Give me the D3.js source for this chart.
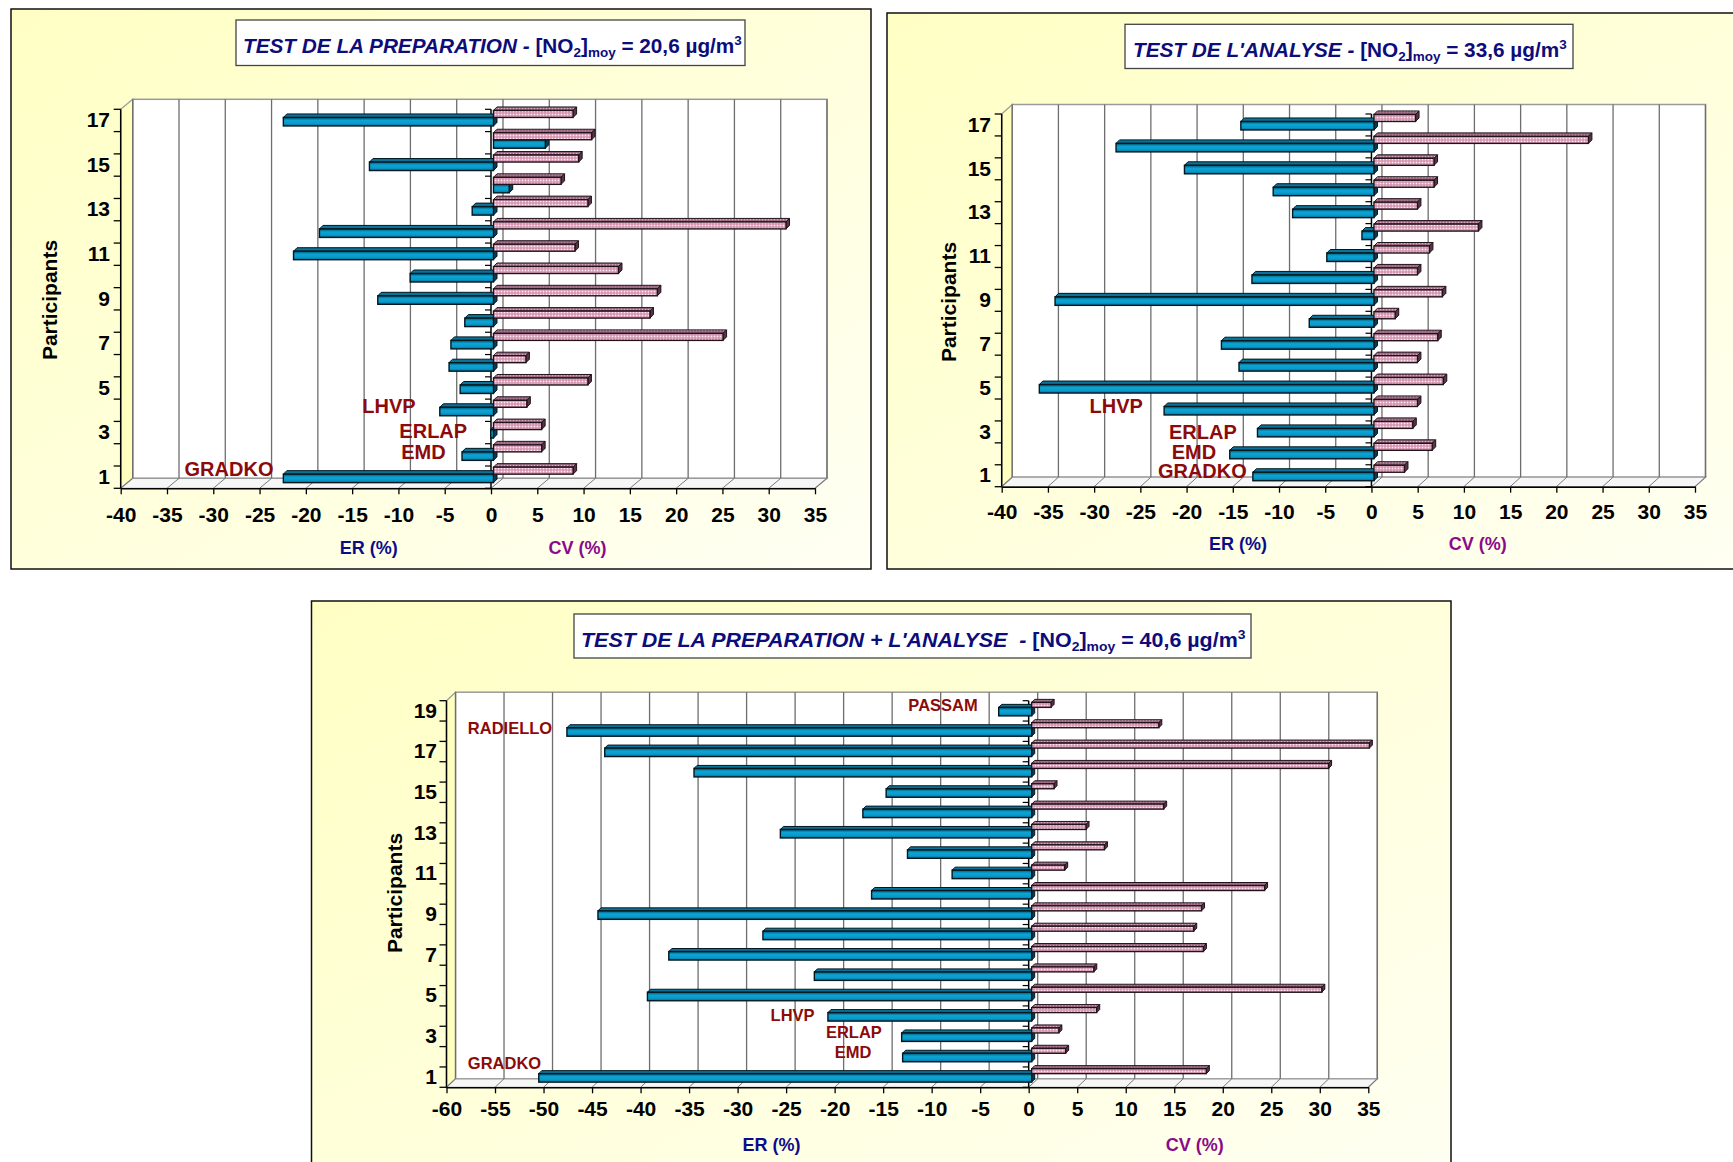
<!DOCTYPE html>
<html lang="fr">
<head>
<meta charset="UTF-8">
<title>Tests NO2 - ER et CV par participant</title>
<script src="https://d3js.org/d3.v7.min.js"></script>
<style>
  body { margin: 0; background: #fff; }
  svg { display: block; font-family: "Liberation Sans", Arial, sans-serif; }
  text { white-space: pre; }
</style>
</head>
<body>
<div id="chart"></div>
<script>
// participants, participant 1 first in every series
const participants17 = [1, 2, 3, 4, 5, 6, 7, 8, 9, 10, 11, 12, 13, 14, 15, 16, 17];
const participants19 = [1, 2, 3, 4, 5, 6, 7, 8, 9, 10, 11, 12, 13, 14, 15, 16, 17, 18, 19];

// test de la preparation
const prepER = [-22.7, -3.4, -0.3, -5.8, -3.6, -4.8, -4.6, -3.1, -12.5, -9.0, -21.6, -18.8, -2.3, 1.7, -13.4, 5.6, -22.7];
const prepCV = [8.6, 5.2, 5.2, 3.6, 10.2, 3.5, 24.8, 16.9, 17.7, 13.5, 8.8, 31.6, 10.2, 7.3, 9.2, 10.6, 8.6];

// test de l'analyse
const anaER = [-13.1, -15.6, -12.6, -22.7, -36.2, -14.6, -16.5, -7.0, -34.5, -13.2, -5.1, -1.3, -8.8, -10.9, -20.5, -27.9, -14.4];
const anaCV = [3.3, 6.3, 4.2, 4.7, 7.5, 4.7, 6.9, 2.3, 7.4, 4.7, 6.0, 11.3, 4.7, 6.5, 6.5, 23.2, 4.5];

// test de la preparation + l'analyse
const totER = [-50.8, -13.3, -13.4, -21.0, -39.6, -22.4, -37.4, -27.7, -44.7, -16.5, -8.2, -12.8, -25.9, -17.4, -15.0, -34.8, -44.0, -47.9, -3.4];
const totCV = [18.0, 3.5, 2.8, 6.7, 29.9, 6.4, 17.7, 16.7, 17.5, 24.0, 3.4, 7.5, 5.6, 13.6, 2.3, 30.6, 34.8, 13.1, 2.0];

// axis ticks
const ticksA = [-40, -35, -30, -25, -20, -15, -10, -5, 0, 5, 10, 15, 20, 25, 30, 35];
const ticksB = [-60, -55, -50, -45, -40, -35, -30, -25, -20, -15, -10, -5, 0, 5, 10, 15, 20, 25, 30, 35];
const labels17 = [1, 3, 5, 7, 9, 11, 13, 15, 17];
const labels19 = [1, 3, 5, 7, 9, 11, 13, 15, 17, 19];

// sampler names, placed in data coordinates (participant, value)
const names1 = [
  { text: "LHVP", p: 4.2, v: -13.9 },
  { text: "ERLAP", p: 3.05, v: -9.9 },
  { text: "EMD", p: 2.15, v: -9.7 },
  { text: "GRADKO", p: 1.37, v: -33.1 }
];
const names2 = [
  { text: "LHVP", p: 4.18, v: -30.5 },
  { text: "ERLAP", p: 2.98, v: -21.9 },
  { text: "EMD", p: 2.1, v: -21.6 },
  { text: "GRADKO", p: 1.22, v: -23.1 }
];
const names3 = [
  { text: "PASSAM", p: 19.29, v: -12.4 },
  { text: "RADIELLO", p: 18.14, v: -57.8 },
  { text: "LHVP", p: 4.05, v: -26.6 },
  { text: "ERLAP", p: 3.23, v: -20.9 },
  { text: "EMD", p: 2.22, v: -20.0 },
  { text: "GRADKO", p: 1.68, v: -57.8 }
];

const svg = d3.select("#chart").append("svg")
  .attr("width", 1733)
  .attr("height", 1162);

// gradients and patterns
const defs = svg.append("defs");

const bg = defs.append("linearGradient").attr("id", "panelBg")
  .attr("x1", 0).attr("y1", 0).attr("x2", 1).attr("y2", 1);
bg.append("stop").attr("offset", 0).attr("stop-color", "#ffffc4");
bg.append("stop").attr("offset", 1).attr("stop-color", "#fffff4");

const bf = defs.append("linearGradient").attr("id", "blueFront")
  .attr("x1", 0).attr("y1", 0).attr("x2", 0).attr("y2", 1);
bf.append("stop").attr("offset", 0).attr("stop-color", "#06536d");
bf.append("stop").attr("offset", 0.35).attr("stop-color", "#0ba4d4");
bf.append("stop").attr("offset", 0.7).attr("stop-color", "#099bcc");
bf.append("stop").attr("offset", 1).attr("stop-color", "#076c90");

function dots(id, base, light, dark) {
  const p = defs.append("pattern").attr("id", id)
    .attr("width", 3).attr("height", 3)
    .attr("patternUnits", "userSpaceOnUse");
  p.append("rect").attr("width", 3).attr("height", 3).attr("fill", base);
  p.append("rect").attr("width", 1).attr("height", 1).attr("fill", light);
  p.append("rect").attr("x", 1.5).attr("y", 1.5).attr("width", 1).attr("height", 1).attr("fill", dark);
}
dots("pinkFront", "#e4adc4", "#fbeef4", "#a9668a");
dots("pinkTop", "#a87690", "#d2aec0", "#6a3f56");

const blueFill = { front: "url(#blueFront)", top: "#0a739a", side: "#053f54", stroke: "#011820" };
const pinkFill = { front: "url(#pinkFront)", top: "url(#pinkTop)", side: "#553646", stroke: "#22121a" };

const line = d3.line();

function drawBox(g, xa, xz, ya, yz, d, f) {
  if (xz - xa < 0.6) xz = xa + 0.6;
  g.append("path")
    .attr("d", line([[xa, ya], [xz, ya], [xz + d, ya - d], [xa + d, ya - d]]) + "Z")
    .attr("fill", f.top).attr("stroke", f.stroke).attr("stroke-width", 1);
  g.append("path")
    .attr("d", line([[xz, ya], [xz + d, ya - d], [xz + d, yz - d], [xz, yz]]) + "Z")
    .attr("fill", f.side).attr("stroke", f.stroke).attr("stroke-width", 1);
  g.append("rect")
    .attr("x", xa).attr("y", ya)
    .attr("width", xz - xa).attr("height", yz - ya)
    .attr("fill", f.front).attr("stroke", f.stroke).attr("stroke-width", 1.4);
}

function drawPanel(cfg) {
  const g = svg.append("g");

  // frame
  g.append("rect")
    .attr("x", cfg.frame[0]).attr("y", cfg.frame[1])
    .attr("width", cfg.frame[2]).attr("height", cfg.frame[3])
    .attr("fill", "url(#panelBg)")
    .attr("stroke", "#111").attr("stroke-width", 1.5);

  // title
  g.append("rect")
    .attr("x", cfg.titleBox[0]).attr("y", cfg.titleBox[1])
    .attr("width", cfg.titleBox[2]).attr("height", cfg.titleBox[3])
    .attr("fill", "#fff").attr("stroke", "#444").attr("stroke-width", 1.3);
  const title = g.append("text")
    .attr("x", 0).attr("y", 0)
    .attr("font-size", 20).attr("font-weight", "bold").attr("fill", "#0c0c7a");
  title.append("tspan").attr("font-style", "italic").text(cfg.titleLead);
  title.append("tspan").text("[NO");
  title.append("tspan").attr("font-size", 13).attr("dy", 4).text("2");
  title.append("tspan").attr("dy", -4).text("]");
  title.append("tspan").attr("font-size", 13).attr("dy", 4).text("moy");
  title.append("tspan").attr("dy", -4).text(" = " + cfg.titleValue + " µg/m");
  title.append("tspan").attr("font-size", 13).attr("dy", -8).text("3");
  const tw = title.node().getBBox().width;
  title.attr("transform", `translate(${cfg.titleX},${cfg.titleBase}) scale(${cfg.titleW / tw},1)`);

  const x = d3.scaleLinear().domain(cfg.xDomain).range(cfg.xRange);
  const y = d3.scaleBand().domain(cfg.participants.slice().reverse()).range(cfg.yRange);
  const yNum = d3.scaleLinear()
    .domain([0.5, cfg.participants.length + 0.5])
    .range([cfg.yRange[1], cfg.yRange[0]]);
  const [dx, dy] = cfg.wall;
  const x0 = cfg.xRange[0], x1 = cfg.xRange[1];
  const yTop = cfg.yRange[0], yBot = cfg.yRange[1];

  // back wall, side wall, floor
  g.append("rect")
    .attr("x", x0 + dx).attr("y", yTop + dy)
    .attr("width", x1 - x0).attr("height", yBot - yTop)
    .attr("fill", "#fff").attr("stroke", "#9a9a9a").attr("stroke-width", 1.5);
  g.append("path")
    .attr("d", line([[x0, yTop], [x0 + dx, yTop + dy], [x0 + dx, yBot + dy], [x0, yBot]]) + "Z")
    .attr("fill", "#ffffc0").attr("stroke", "#9a9a9a").attr("stroke-width", 1.2);
  g.append("path")
    .attr("d", line([[x0, yBot], [x1, yBot], [x1 + dx, yBot + dy], [x0 + dx, yBot + dy]]) + "Z")
    .attr("fill", "#f6f6f6").attr("stroke", "#9a9a9a").attr("stroke-width", 1.2);

  // grid lines on the back wall and on the floor
  g.append("g").selectAll("line").data(cfg.ticks).join("line")
    .attr("x1", d => x(d) + dx).attr("x2", d => x(d) + dx)
    .attr("y1", yTop + dy).attr("y2", yBot + dy)
    .attr("stroke", "#6e6e6e").attr("stroke-width", 1.3);
  g.append("g").selectAll("line").data(cfg.ticks).join("line")
    .attr("x1", d => x(d)).attr("x2", d => x(d) + dx)
    .attr("y1", yBot).attr("y2", yBot + dy)
    .attr("stroke", "#7a7a7a").attr("stroke-width", 1);

  // value axis
  const fs = 21;
  const xAxis = g.append("g")
    .attr("transform", `translate(0,${yBot})`)
    .call(d3.axisBottom(x).tickValues(cfg.ticks).tickSize(6).tickSizeOuter(0)
      .tickPadding(cfg.xLabelOffset - 6 - 0.35 * fs)
      .tickFormat(d => String(d)));
  xAxis.attr("font-family", null);
  xAxis.select(".domain").attr("stroke", "#000").attr("stroke-width", 1.5);
  xAxis.selectAll(".tick line").attr("stroke", "#000").attr("stroke-width", 1.3);
  xAxis.selectAll(".tick text")
    .attr("font-size", fs).attr("font-weight", "bold").attr("fill", "#000");

  // participant axis (front edge of the side wall)
  const bounds = cfg.participants.map(p => y(p)).concat([yBot]);
  g.append("line")
    .attr("x1", x0).attr("x2", x0).attr("y1", yTop).attr("y2", yBot)
    .attr("stroke", "#000").attr("stroke-width", 1.5);
  g.append("g").selectAll("line").data(bounds).join("line")
    .attr("x1", x0 - 7).attr("x2", x0).attr("y1", d => d).attr("y2", d => d)
    .attr("stroke", "#000").attr("stroke-width", 1.3);
  const yAxis = g.append("g")
    .attr("transform", `translate(${x0},0)`)
    .call(d3.axisLeft(y).tickValues(cfg.tickLabels).tickSize(0).tickPadding(cfg.yLabelPad));
  yAxis.attr("font-family", null);
  yAxis.select(".domain").remove();
  yAxis.selectAll(".tick text")
    .attr("font-size", fs).attr("font-weight", "bold").attr("fill", "#000");

  // category axis crossing at zero
  g.append("line")
    .attr("x1", x(0)).attr("x2", x(0)).attr("y1", yTop).attr("y2", yBot)
    .attr("stroke", "#000").attr("stroke-width", 1.5);
  g.append("g").selectAll("line").data(bounds).join("line")
    .attr("x1", x(0) - 6).attr("x2", x(0)).attr("y1", d => d).attr("y2", d => d)
    .attr("stroke", "#000").attr("stroke-width", 1.2);

  // bars: ER (blue) under CV (pink) in each participant band
  const b = cfg.bar;
  const xb = v => x(v) + b.ox;
  const rows = cfg.participants.map((p, i) => ({ p, er: cfg.er[i], cv: cfg.cv[i] }));
  g.append("g").selectAll("g").data(rows).join("g").each(function (r) {
    const cg = d3.select(this);
    const c = y(r.p) + y.bandwidth() / 2 + b.oy;
    drawBox(cg, Math.min(xb(0), xb(r.er)), Math.max(xb(0), xb(r.er)), c, c + b.bh, b.d, blueFill);
    drawBox(cg, Math.min(xb(0), xb(r.cv)), Math.max(xb(0), xb(r.cv)), c - b.ph, c, b.d, pinkFill);
  });

  // sampler names
  g.append("g").selectAll("text").data(cfg.names).join("text")
    .attr("x", d => x(d.v)).attr("y", d => yNum(d.p))
    .attr("dominant-baseline", "central")
    .attr("font-size", cfg.nameSize).attr("font-weight", "bold").attr("fill", "#8c0a0a")
    .text(d => d.text);

  // axis titles
  g.append("text")
    .attr("transform", `translate(${cfg.part[0]},${cfg.part[1]}) rotate(-90)`)
    .attr("text-anchor", "middle").attr("dominant-baseline", "central")
    .attr("font-size", fs).attr("font-weight", "bold").attr("fill", "#000")
    .text("Participants");
  g.append("text")
    .attr("x", cfg.erPos[0]).attr("y", cfg.erPos[1])
    .attr("text-anchor", "middle").attr("dominant-baseline", "central")
    .attr("font-size", 18).attr("font-weight", "bold").attr("fill", "#0c0c8a")
    .text("ER (%)");
  g.append("text")
    .attr("x", cfg.cvPos[0]).attr("y", cfg.cvPos[1])
    .attr("text-anchor", "middle").attr("dominant-baseline", "central")
    .attr("font-size", 18).attr("font-weight", "bold").attr("fill", "#8a0a8a")
    .text("CV (%)");
}

drawPanel({
  frame: [11, 9, 860, 560],
  titleBox: [236, 20, 509, 45.5], titleX: 243, titleBase: 53, titleW: 499,
  titleLead: "TEST DE LA PREPARATION - ", titleValue: "20,6",
  participants: participants17, er: prepER, cv: prepCV,
  ticks: ticksA, tickLabels: labels17,
  xDomain: [-40, 35], xRange: [120.7, 815], yRange: [109.3, 488.3], wall: [12, -10],
  bar: { ox: 2.5, oy: -3, ph: 7, bh: 8.5, d: 3.5 },
  xLabelOffset: 25.7, yLabelPad: 10.7,
  part: [49, 300], erPos: [368.7, 548], cvPos: [577.6, 548],
  names: names1, nameSize: 20
});

drawPanel({
  frame: [887, 13, 900, 556],
  titleBox: [1125, 24.3, 448, 44.2], titleX: 1133, titleBase: 57, titleW: 434,
  titleLead: "TEST DE L'ANALYSE - ", titleValue: "33,6",
  participants: participants17, er: anaER, cv: anaCV,
  ticks: ticksA, tickLabels: labels17,
  xDomain: [-40, 35], xRange: [1001.7, 1695], yRange: [114, 486.7], wall: [10.5, -9.5],
  bar: { ox: 2.5, oy: -3.5, ph: 7, bh: 8.5, d: 3.5 },
  xLabelOffset: 24.5, yLabelPad: 10.7,
  part: [948.5, 302], erPos: [1238, 544], cvPos: [1477.7, 544],
  names: names2, nameSize: 20
});

drawPanel({
  frame: [311.5, 601, 1139.5, 620],
  titleBox: [574, 614, 677, 44], titleX: 581, titleBase: 647, titleW: 665,
  titleLead: "TEST DE LA PREPARATION + L'ANALYSE  - ", titleValue: "40,6",
  participants: participants19, er: totER, cv: totCV,
  ticks: ticksB, tickLabels: labels19,
  xDomain: [-60, 35], xRange: [446.5, 1368.3], yRange: [700.7, 1087.3], wall: [9, -8.5],
  bar: { ox: 3, oy: -3.5, ph: 5, bh: 8.5, d: 3 },
  xLabelOffset: 21, yLabelPad: 9.5,
  part: [394.6, 893], erPos: [771.5, 1145], cvPos: [1194.7, 1145],
  names: names3, nameSize: 16.5
});
</script>
</body>
</html>
